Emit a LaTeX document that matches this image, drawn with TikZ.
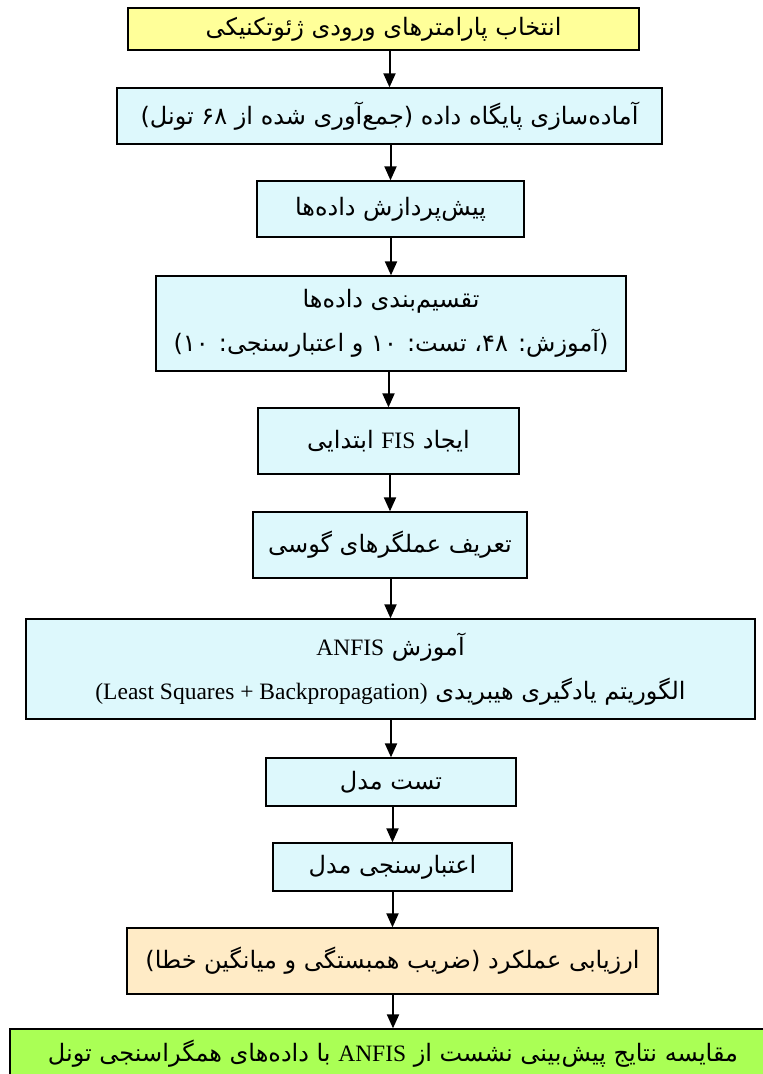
\documentclass[tikz,border=0pt]{standalone}
\usepackage{fontspec}
\setmainfont{Liberation Serif}
\newfontfamily\fa[Script=Arabic]{DejaVu Sans}
\TeXXeTstate=1
\usetikzlibrary{arrows.meta}
\definecolor{cyanbox}{HTML}{DDF8FC}
\definecolor{yelbox}{HTML}{FFFF99}
\definecolor{begbox}{HTML}{FFEBC6}
\definecolor{grnbox}{HTML}{AAFF55}
\newcommand\lat[1]{\beginL{\rmfamily\fontsize{23.5}{44}\selectfont #1}\endL}
\tikzset{
  box/.style={draw=black, line width=1.3pt, inner sep=0pt, align=center,
    font=\fa\fontsize{24}{44}\selectfont},
  cbox/.style={box, fill=cyanbox},
  arr/.style={line width=2pt, -{Triangle[length=14pt,width=12pt]}},
}
\begin{document}
\begin{tikzpicture}[x=1pt,y=-1pt]
\useasboundingbox (0,0) rectangle (763,1074);
\clip (0,0) rectangle (763,1074);
\node[box, fill=yelbox, minimum width=511pt, minimum height=42pt] (n1) at (383.5,29)
  {\beginR انتخاب پارامترهای ورودی ژئوتکنیکی\endR};
\node[cbox, minimum width=545pt, minimum height=56pt] (n2) at (389.5,116)
  {\beginR آماده^^^^200cسازی پایگاه داده (جمع^^^^200cآوری شده از ۶۸ تونل)\endR};
\node[cbox, minimum width=267pt, minimum height=56pt] (n3) at (390.5,209)
  {\beginR پیش^^^^200cپردازش داده^^^^200cها\endR};
\node[cbox, minimum width=470pt, minimum height=95pt] (n4) at (391,323.5)
  {\beginR تقسیم^^^^200cبندی داده^^^^200cها\endR\\
   \beginR (آموزش: ۴۸، تست: ۱۰ و اعتبارسنجی: ۱۰)\endR};
\node[cbox, minimum width=261pt, minimum height=66pt] (n5) at (388.5,441)
  {\beginR ایجاد \lat{FIS} ابتدایی\endR};
\node[cbox, minimum width=274pt, minimum height=66pt] (n6) at (390,545)
  {\beginR تعریف عملگرهای گوسی\endR};
\node[cbox, minimum width=729pt, minimum height=100pt] (n7) at (390.5,669)
  {\beginR آموزش \lat{ANFIS}\endR\\
   \beginR الگوریتم یادگیری هیبریدی \lat{(Least Squares + Backpropagation)}\endR};
\node[cbox, minimum width=250pt, minimum height=48pt] (n8) at (391,782)
  {\beginR تست مدل\endR};
\node[cbox, minimum width=239pt, minimum height=48pt] (n9) at (392.5,867)
  {\beginR اعتبارسنجی مدل\endR};
\node[box, fill=begbox, minimum width=531pt, minimum height=66pt] (n10) at (392.5,961)
  {\beginR ارزیابی عملکرد (ضریب همبستگی و میانگین خطا)\endR};
\node[box, fill=grnbox, minimum width=766pt, minimum height=50pt] (n11) at (393,1054)
  {\beginR مقایسه نتایج پیش^^^^200cبینی نشست از \lat{ANFIS} با داده^^^^200cهای همگراسنجی تونل\endR};
\foreach \a/\b in {n1/n2,n2/n3,n3/n4,n4/n5,n5/n6,n6/n7,n7/n8,n8/n9,n9/n10,n10/n11}
  \draw[arr] (\b.north |- \a.south) -- (\b.north);
\end{tikzpicture}
\end{document}
